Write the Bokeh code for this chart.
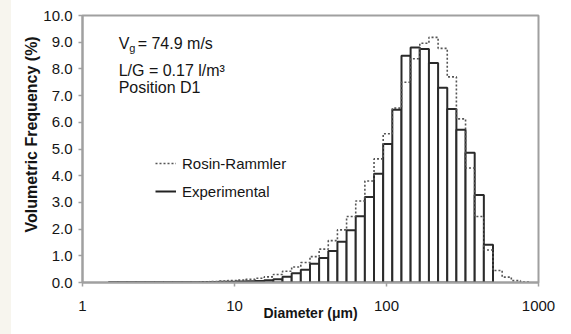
import math
from bokeh.plotting import figure
from bokeh.models import (FixedTicker, NumeralTickFormatter, Label, Legend, LegendItem,
                          ColumnDataSource, Range1d, Spacer, Title)
from bokeh.layouts import row
from bokeh.embed import file_html
from bokeh.resources import INLINE

# ---- data ----
bin_edges_um = [1.486, 1.707, 1.961, 2.252, 2.587, 2.972, 3.414, 3.922, 4.505, 5.175,
                5.944, 6.828, 7.844, 9.010, 10.35, 11.89, 13.66, 15.69, 18.02, 20.70,
                23.78, 27.31, 31.37, 36.04, 41.40, 47.55, 54.62, 62.74, 72.07, 82.79,
                95.10, 109.2, 125.5, 144.1, 165.6, 190.2, 218.5, 251.0, 288.3, 331.2,
                380.4, 437.0, 502.0, 576.6, 662.4, 760.8, 874.0]

experimental = [0.01, 0.01, 0.01, 0.01, 0.01, 0.01, 0.01, 0.01, 0.01, 0.01,
                0.02, 0.02, 0.03, 0.03, 0.04, 0.05, 0.06, 0.08, 0.12, 0.22,
                0.35, 0.48, 0.70, 0.92, 1.18, 1.53, 1.96, 2.48, 3.20, 4.07,
                5.19, 6.47, 8.49, 8.80, 8.75, 8.22, 7.29, 6.50, 5.72, 4.86,
                3.28, 1.41, 0.0, 0.0, 0.0, 0.0]

rosin_rammler = [0.00, 0.00, 0.00, 0.00, 0.01, 0.01, 0.01, 0.01, 0.02, 0.02,
                 0.03, 0.04, 0.05, 0.07, 0.09, 0.12, 0.16, 0.21, 0.30, 0.42,
                 0.58, 0.75, 0.97, 1.25, 1.57, 1.97, 2.47, 3.05, 3.80, 4.63,
                 5.57, 6.53, 7.50, 8.38, 8.96, 9.18, 8.77, 7.70, 6.13, 4.29,
                 2.47, 1.22, 0.45, 0.20, 0.07, 0.02]

x_ticks = [1, 10, 100, 1000]
y_ticks = [0, 1, 2, 3, 4, 5, 6, 7, 8, 9, 10]

FONT = "Liberation Sans"
TXT = "#151515"
GRAY = "#a0a0a0"

# ---- sources ----
left = [bin_edges_um[i] for i in range(len(experimental)) if experimental[i] > 0]
right = [bin_edges_um[i + 1] for i in range(len(experimental)) if experimental[i] > 0]
top = [v for v in experimental if v > 0]
bars = ColumnDataSource(dict(left=left, right=right, top=top, bottom=[0] * len(top)))

step_src = ColumnDataSource(dict(x=list(bin_edges_um), y=list(rosin_rammler) + [0.0]))

p = figure(width=560, height=334, x_axis_type="log",
           x_range=Range1d(1, 1000), y_range=Range1d(0, 10),
           output_backend="svg", toolbar_location=None,
           min_border_left=71, min_border_right=33, min_border_top=15, min_border_bottom=52,
           background_fill_color="white", border_fill_color="white")
p.xgrid.visible = False
p.ygrid.visible = False
p.outline_line_color = GRAY
p.outline_line_width = 2

p.quad(left="left", right="right", top="top", bottom="bottom", source=bars,
       fill_color="white", line_color="#2a2a2a", line_width=2)
rr = p.step(x="x", y="y", source=step_src, mode="after",
            line_color="#555555", line_width=1.6, line_dash="2 2")
exp_dummy = p.line(x=[float("nan")], y=[float("nan")], line_color="#222222", line_width=2)

# axes
for ax in (p.xaxis, p.yaxis):
    ax.axis_line_color = GRAY
    ax.axis_line_width = 2
    ax.major_tick_line_color = GRAY
    ax.major_tick_line_width = 1.5
    ax.major_tick_out = 4
    ax.major_tick_in = 0
    ax.minor_tick_line_color = None
    ax.major_label_text_font = FONT
    ax.major_label_text_font_size = "15px"
    ax.major_label_text_color = TXT

p.xaxis.ticker = FixedTicker(ticks=x_ticks)
p.xaxis.formatter = NumeralTickFormatter(format="0")
p.xaxis.major_label_standoff = 14
p.xaxis.axis_label = "Diameter (μm)"
p.xaxis.axis_label_text_font = FONT
p.xaxis.axis_label_text_font_style = "bold"
p.xaxis.axis_label_text_font_size = "14px"
p.xaxis.axis_label_text_color = TXT
p.xaxis.axis_label_standoff = -9

p.yaxis.ticker = FixedTicker(ticks=y_ticks)
p.yaxis.formatter = NumeralTickFormatter(format="0.0")
p.yaxis.major_label_standoff = 6

# y title
p.add_layout(Title(text="Volumetric Frequency (%)", align="left", offset=50,
                   text_font=FONT, text_font_style="bold", text_font_size="16px",
                   text_color=TXT, standoff=2), "left")

# annotation text
common = dict(text_font=FONT, text_font_size="16px", text_color=TXT, text_baseline="middle")
p.add_layout(Label(x=1.73, y=8.95, text="V", **common))
p.add_layout(Label(x=1.73, y=8.78, x_offset=10.5, text="g", text_font=FONT,
                   text_font_size="11px", text_color=TXT, text_baseline="middle"))
p.add_layout(Label(x=1.73, y=8.95, x_offset=19, text="= 74.9 m/s", **common))
p.add_layout(Label(x=1.73, y=7.94, text="L/G = 0.17 l/m³", **common))
p.add_layout(Label(x=1.73, y=7.30, text="Position D1", **common))

legend = Legend(items=[LegendItem(label="Rosin-Rammler", renderers=[rr]),
                       LegendItem(label="Experimental", renderers=[exp_dummy])],
                location=(73, 77), padding=0, margin=0, spacing=0,
                glyph_width=21, glyph_height=28, label_height=28, label_standoff=6,
                label_text_font=FONT, label_text_font_size="15px", label_text_color=TXT,
                border_line_color=None, background_fill_alpha=0)
p.add_layout(legend)

layout = row(Spacer(width=11, height=334, styles={"background-color": "#f7f5ee"}), p)
open("out.html", "w").write(file_html(layout, INLINE))
